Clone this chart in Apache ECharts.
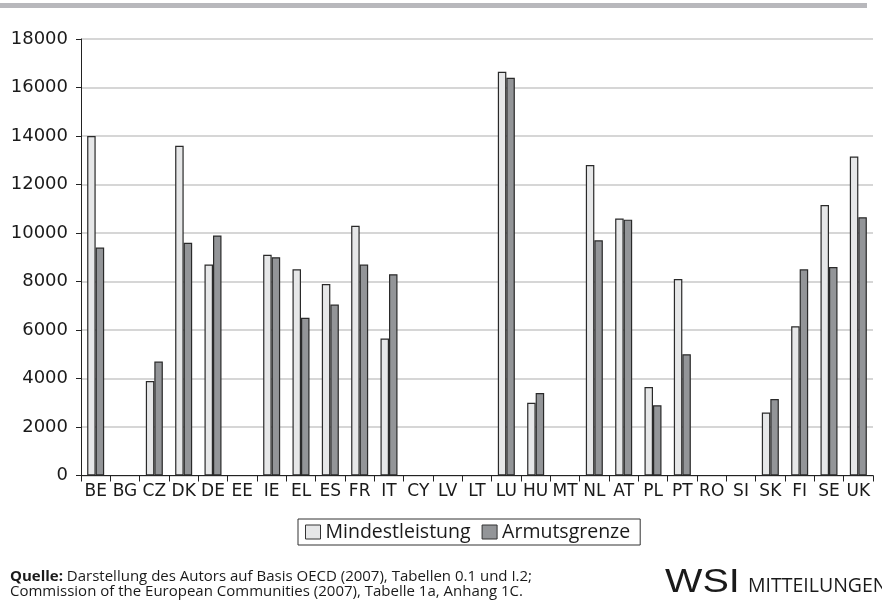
<!DOCTYPE html>
<html>
<head>
<meta charset="utf-8">
<script src="https://cdn.jsdelivr.net/npm/echarts@6/dist/echarts.min.js"></script>
<style>
  html, body { margin: 0; padding: 0; background: #fff; }
  #chart { width: 882px; height: 605px; }
</style>
</head>
<body>
<div id="chart"></div>
<script>
// EU member states (country codes)
const categories = ['BE','BG','CZ','DK','DE','EE','IE','EL','ES','FR','IT','CY','LV','LT',
                    'LU','HU','MT','NL','AT','PL','PT','RO','SI','SK','FI','SE','UK'];

// Minimum benefit level (Mindestleistung); null = no data
const mindestleistung = [14000, null, 3900, 13600, 8700, null, 9100, 8500, 7900, 10300, 5650, null, null, null,
                         16650, 3000, null, 12800, 10600, 3650, 8100, null, null, 2600, 6150, 11150, 13150];

// Poverty threshold (Armutsgrenze); null = no data
const armutsgrenze = [9400, null, 4700, 9600, 9900, null, 9000, 6500, 7050, 8700, 8300, null, null, null,
                      16400, 3400, null, 9700, 10550, 2900, 5000, null, null, 3150, 8500, 8600, 10650];

const yTicks = { min: 0, max: 18000, interval: 2000 };

const chart = echarts.init(document.getElementById('chart'), null, { renderer: 'canvas' });

const barBorder = { borderColor: '#2a2a2a', borderWidth: 1.2 };

chart.setOption({
  animation: false,
  backgroundColor: '#ffffff',
  grid: { left: 81, right: 9, top: 39, bottom: 129.5, containLabel: false },
  legend: {
    left: 298, top: 519,
    padding: [3, 10, 3, 7],
    itemGap: 11,
    itemWidth: 15, itemHeight: 14,
    borderColor: '#333', borderWidth: 1,
    icon: 'rect',
    textStyle: { fontFamily: 'Open Sans', fontSize: 19.5, color: '#1a1a1a' },
    data: [
      { name: 'Mindestleistung', itemStyle: { color: '#e6e7e8', borderColor: '#333', borderWidth: 1 } },
      { name: 'Armutsgrenze', itemStyle: { color: '#939598', borderColor: '#333', borderWidth: 1 } }
    ]
  },
  xAxis: {
    type: 'category',
    data: categories,
    boundaryGap: true,
    axisLine: { lineStyle: { color: '#222', width: 1 } },
    axisTick: { show: true, length: 6, lineStyle: { color: '#222' } },
    axisLabel: { interval: 0, margin: 8, color: '#1a1a1a', fontFamily: 'DejaVu Sans', fontSize: 17 }
  },
  yAxis: {
    type: 'value',
    min: yTicks.min, max: yTicks.max, interval: yTicks.interval,
    axisLine: { show: true, lineStyle: { color: '#222', width: 1 } },
    axisTick: { show: true, length: 5, lineStyle: { color: '#222' } },
    axisLabel: {
      margin: 13, color: '#1a1a1a', fontFamily: 'DejaVu Sans', fontSize: 18,
      formatter: v => String(v)
    },
    splitLine: { show: true, lineStyle: { color: '#c8c8c8', width: 1.5 } }
  },
  series: [
    {
      name: 'Mindestleistung', type: 'bar', data: mindestleistung,
      barGap: '0%', barCategoryGap: '42%',
      itemStyle: Object.assign({ color: '#e6e7e8' }, barBorder)
    },
    {
      name: 'Armutsgrenze', type: 'bar', data: armutsgrenze,
      barGap: '0%', barCategoryGap: '42%',
      itemStyle: Object.assign({ color: '#939598' }, barBorder)
    }
  ],
  graphic: [
    // band across the top edge
    { type: 'rect', left: 0, top: 3, shape: { width: 867, height: 5 }, style: { fill: '#b8b8bc' }, silent: true },
    // source note
    {
      type: 'text', left: 10, top: 569,
      style: {
        rich: {
          b: { fontFamily: 'Open Sans', fontSize: 15, fontWeight: 'bold', fill: '#1a1a1a' },
          n: { fontFamily: 'Open Sans', fontSize: 15, fill: '#1a1a1a' }
        },
        text: '{b|Quelle:}{n| Darstellung des Autors auf Basis OECD (2007), Tabellen 0.1 und I.2;}'
      }
    },
    {
      type: 'text', left: 10, top: 584,
      style: {
        text: 'Commission of the European Communities (2007), Tabelle 1a, Anhang 1C.',
        fontFamily: 'Open Sans', fontSize: 15, fill: '#1a1a1a'
      }
    },
    // publisher mark
    {
      type: 'text', x: 665, y: 566, scaleX: 1.2,
      style: { text: 'WSI', fontFamily: 'Liberation Sans', fontSize: 33, fontWeight: 'lighter', fill: '#1a1a1a' }
    },
    {
      type: 'text', left: 748, top: 576,
      style: { text: 'MITTEILUNGEN', fontFamily: 'Open Sans', fontSize: 19.5, fill: '#1a1a1a' }
    }
  ]
});
</script>
</body>
</html>
